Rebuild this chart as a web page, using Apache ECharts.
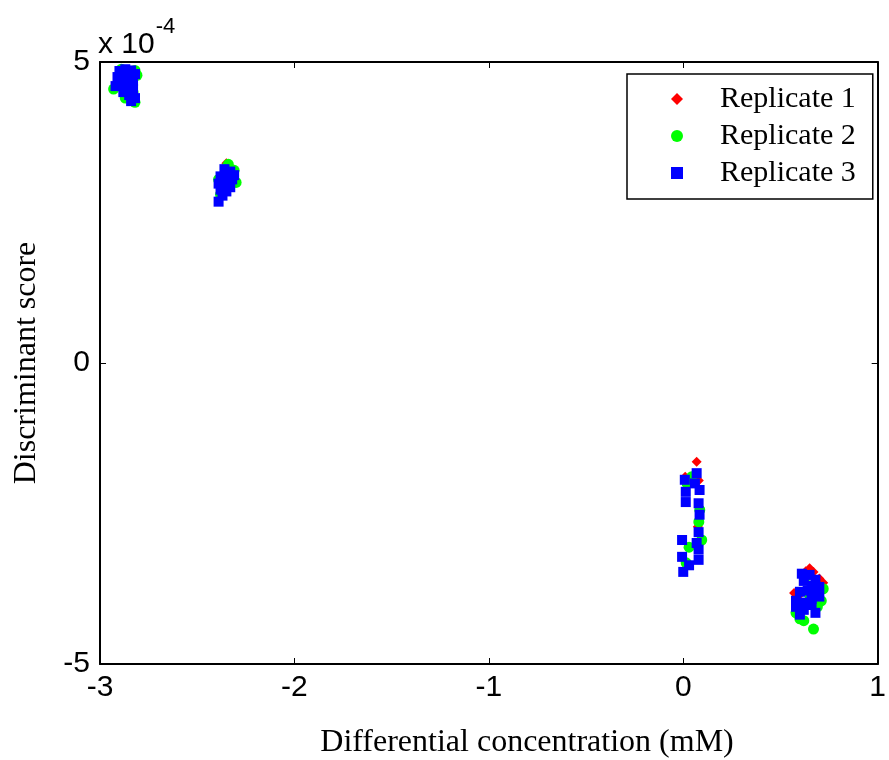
<!DOCTYPE html>
<html><head><meta charset="utf-8">
<script src="https://cdn.jsdelivr.net/npm/echarts@6/dist/echarts.min.js"></script>
<style>html,body{margin:0;padding:0;background:#fff}#c{width:889px;height:760px}</style>
</head><body><div id="c"></div>
<script>
// x: differential concentration (mM); y: discriminant score in units of 1e-4
const seriesNames = ['Replicate 1', 'Replicate 2', 'Replicate 3'];
const xTicks = [-3, -2, -1, 0, 1];
const yTicks = [-5, 0, 5];

const replicate1 = [
  [-2.87,4.80],[-2.85,4.65],[-2.88,4.55],[-2.84,4.45],
  [-2.35,3.32],[-2.36,3.00],
  [0.069,-1.64],[0.01,-1.89],[0.08,-1.95],[0.075,-2.72],
  [0.65,-3.41],[0.63,-3.46],[0.67,-3.47],[0.57,-3.82],[0.59,-3.88],[0.72,-3.65],[0.70,-3.58]
];
const replicate2 = [
  [-2.89,4.88],[-2.82,4.86],[-2.81,4.78],[-2.93,4.55],[-2.87,4.40],[-2.82,4.33],[-2.84,4.62],[-2.90,4.70],[-2.86,4.80],[-2.83,4.50],
  [-2.34,3.30],[-2.31,3.20],[-2.39,3.05],[-2.30,3.00],[-2.38,2.80],[-2.35,3.25],
  [0.043,-1.89],[0.085,-2.44],[0.08,-2.64],[0.03,-3.06],[0.015,-3.32],[0.095,-2.94],[0.02,-2.0],
  [0.60,-4.25],[0.62,-4.28],[0.67,-4.42],[0.71,-3.95],[0.72,-3.75],[0.58,-4.15],[0.63,-3.55],[0.65,-3.85],[0.69,-4.05]
];
const replicate3 = [
  [-2.90,4.85],[-2.87,4.88],[-2.84,4.86],[-2.82,4.80],[-2.91,4.75],[-2.88,4.72],[-2.85,4.74],[-2.83,4.68],
  [-2.92,4.60],[-2.89,4.62],[-2.86,4.58],[-2.83,4.55],[-2.88,4.50],[-2.85,4.45],[-2.82,4.40],[-2.84,4.35],
  [-2.36,3.22],[-2.33,3.18],[-2.38,3.10],[-2.35,3.08],[-2.32,3.05],[-2.39,2.98],[-2.36,2.95],[-2.33,2.92],
  [-2.38,2.88],[-2.35,2.85],[-2.37,2.78],[-2.39,2.68],[-2.34,3.00],[-2.31,3.12],
  [0.069,-1.83],[0.008,-1.94],[0.084,-2.11],[0.013,-2.14],[0.013,-2.31],[0.079,-2.33],[0.084,-2.52],[0.06,-2.0],
  [0.079,-2.81],[-0.006,-2.94],[0.069,-2.99],[0.079,-3.10],[-0.006,-3.22],[0.03,-3.36],[0.079,-3.27],[0.0,-3.47],
  [0.61,-3.50],[0.65,-3.52],[0.68,-3.60],[0.62,-3.62],[0.66,-3.70],[0.70,-3.72],[0.60,-3.80],[0.64,-3.78],
  [0.68,-3.85],[0.58,-3.95],[0.62,-3.98],[0.66,-3.92],[0.70,-3.88],[0.58,-4.05],[0.62,-4.10],[0.66,-4.02],
  [0.68,-4.15],[0.60,-4.18]
];

const chart = echarts.init(document.getElementById('c'), null, {renderer: 'canvas'});
const sans = 'Liberation Sans, Arial, sans-serif';
const serif = 'Liberation Serif, Times New Roman, serif';
function axisCommon() {
  return {
    axisLine: {show: true, onZero: false, lineStyle: {color: '#000', width: 2}},
    axisTick: {show: true, inside: true, length: 6, lineStyle: {color: '#000', width: 1}},
    splitLine: {show: false}
  };
}
const grid = {left: 100, top: 62, width: 782, height: 602};
chart.setOption({
  animation: false,
  backgroundColor: '#fff',
  grid: grid,
  xAxis: [
    Object.assign({type: 'value', min: xTicks[0], max: xTicks[xTicks.length-1], interval: 1, position: 'bottom',
      axisLabel: {color: '#000', fontFamily: sans, fontSize: 30, margin: 9}}, axisCommon()),
    Object.assign({type: 'value', min: xTicks[0], max: xTicks[xTicks.length-1], interval: 1, position: 'top',
      axisLabel: {show: false}}, axisCommon())
  ],
  yAxis: [
    Object.assign({type: 'value', min: yTicks[0], max: yTicks[yTicks.length-1], interval: 5, position: 'left',
      axisLabel: {color: '#000', fontFamily: sans, fontSize: 30, margin: 10}}, axisCommon()),
    Object.assign({type: 'value', min: yTicks[0], max: yTicks[yTicks.length-1], interval: 5, position: 'right',
      axisLabel: {show: false}}, axisCommon())
  ],
  legend: {
    orient: 'vertical', left: 627, top: 74,
    backgroundColor: '#fff', borderColor: '#000', borderWidth: 1.5,
    padding: [10, 17, 11, 44], itemWidth: 12, itemHeight: 12, itemGap: 7,
    textStyle: {fontFamily: serif, fontSize: 30, lineHeight: 30, color: '#000', padding: [0, 0, 0, 32]},
    data: seriesNames
  },
  series: [
    {name: seriesNames[0], type: 'scatter', symbol: 'diamond', symbolSize: 10, data: replicate1,
      itemStyle: {color: '#ff0000', opacity: 1}, xAxisIndex: 0, yAxisIndex: 0},
    {name: seriesNames[1], type: 'scatter', symbol: 'circle', symbolSize: 11, data: replicate2,
      itemStyle: {color: '#00ff00', opacity: 1}, xAxisIndex: 0, yAxisIndex: 0},
    {name: seriesNames[2], type: 'scatter', symbol: 'rect', symbolSize: 10, data: replicate3,
      itemStyle: {color: '#0000ff', opacity: 1}, xAxisIndex: 0, yAxisIndex: 0}
  ],
  graphic: [
    {type: 'text', left: 98, top: 16, style: {
      text: '{a|x 10}{b|-4}', rich: {
        a: {fontFamily: sans, fontSize: 30, fill: '#000', verticalAlign: 'bottom'},
        b: {fontFamily: sans, fontSize: 22, fill: '#000', verticalAlign: 'top', padding: [0, 0, 22, 1]}
      }}},
    {type: 'text', x: 527, y: 743, style: {text: 'Differential concentration (mM)', fontFamily: serif, fontSize: 32,
      fill: '#000', align: 'center', verticalAlign: 'middle'}},
    {type: 'text', x: 27, y: 363, rotation: Math.PI / 2, style: {text: 'Discriminant score', fontFamily: serif, fontSize: 32,
      fill: '#000', align: 'center', verticalAlign: 'middle'}}
  ]
});
</script></body></html>
